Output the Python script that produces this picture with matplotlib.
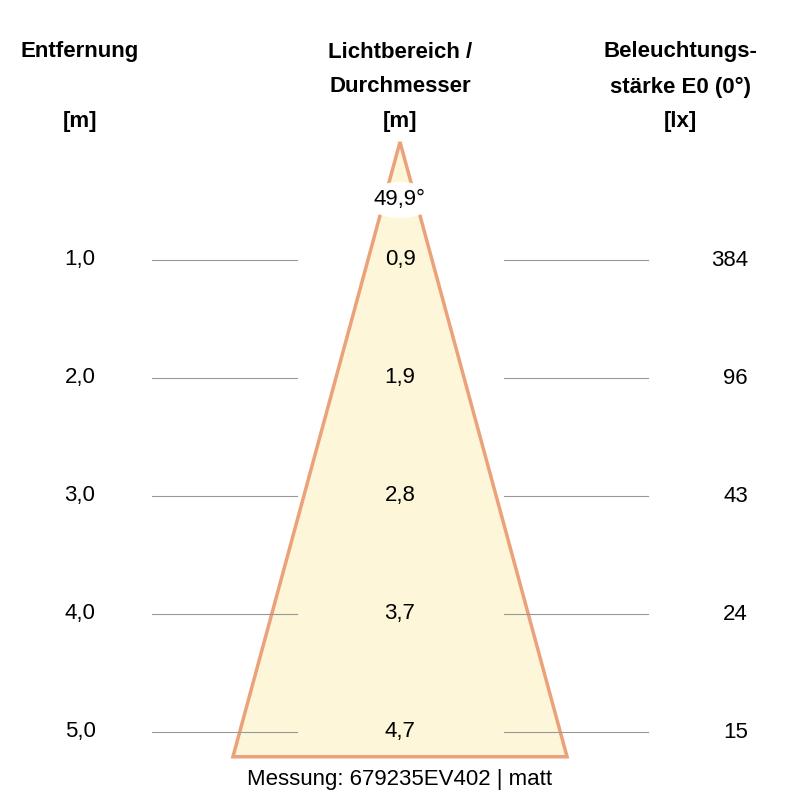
import numpy as np
import matplotlib
matplotlib.use("Agg")
import matplotlib.pyplot as plt
from matplotlib.patches import Polygon, Ellipse

distances = [1.0, 2.0, 3.0, 4.0, 5.0]
diameters = ["0,9", "1,9", "2,8", "3,7", "4,7"]
lux = ["384", "96", "43", "24", "15"]
angle_deg = 49.9
dist_labels = ["1,0", "2,0", "3,0", "4,0", "5,0"]

fam = ["Liberation Sans Narrow", "Liberation Sans", "DejaVu Sans"]
plt.rcParams['font.family'] = fam

fig = plt.figure(figsize=(8, 8), dpi=100)
ax = fig.add_axes([0, 0, 1, 1])
ax.set_xlim(0, 800)
ax.set_ylim(800, 0)
ax.axis("off")

apex_y, py_per_m, hscale = 142, 118, 0.584
def ypos(d):
    return apex_y + py_per_m * d

base_d = 5.21
half = np.tan(np.radians(angle_deg / 2)) * base_d * py_per_m * hscale
ax.add_patch(Polygon([(400, apex_y), (400 - half, ypos(base_d)), (400 + half, ypos(base_d))],
                     closed=True, facecolor="#FDF6D8", edgecolor="#EBA27A", lw=2.5, zorder=1))

for d, dl, dm, lx in zip(distances, dist_labels, diameters, lux):
    y = ypos(d)
    ax.plot([152, 297], [y, y], color="#999999", lw=0.8, zorder=2)
    ax.plot([504, 648], [y, y], color="#999999", lw=0.8, zorder=2)
    ax.text(80, y, dl, ha="center", va="center", fontsize=16)
    ax.text(400, y, dm, ha="center", va="center", fontsize=16, zorder=3)
    ax.text(748, y, lx, ha="right", va="center", fontsize=16)

ax.add_patch(Ellipse((400, 200), 70, 36, facecolor="white", edgecolor="none", zorder=2))
ax.text(400, 200, "49,9°", ha="center", va="center", fontsize=16, zorder=3)

hb = dict(ha="center", va="center", fontsize=16, fontweight="bold")
ax.text(80, 52, "Entfernung", **hb)
ax.text(80, 121, "[m]", **hb)
ax.text(400, 52, "Lichtbereich /", **hb)
ax.text(400, 87, "Durchmesser", **hb)
ax.text(400, 121, "[m]", **hb)
ax.text(680, 52, "Beleuchtungs-", **hb)
ax.text(680, 87, "stärke E0 (0°)", **hb)
ax.text(680, 121, "[lx]", **hb)

ax.text(400, 780, "Messung: 679235EV402 | matt", ha="center", va="center", fontsize=16)

fig.savefig("out.png", dpi=100)
